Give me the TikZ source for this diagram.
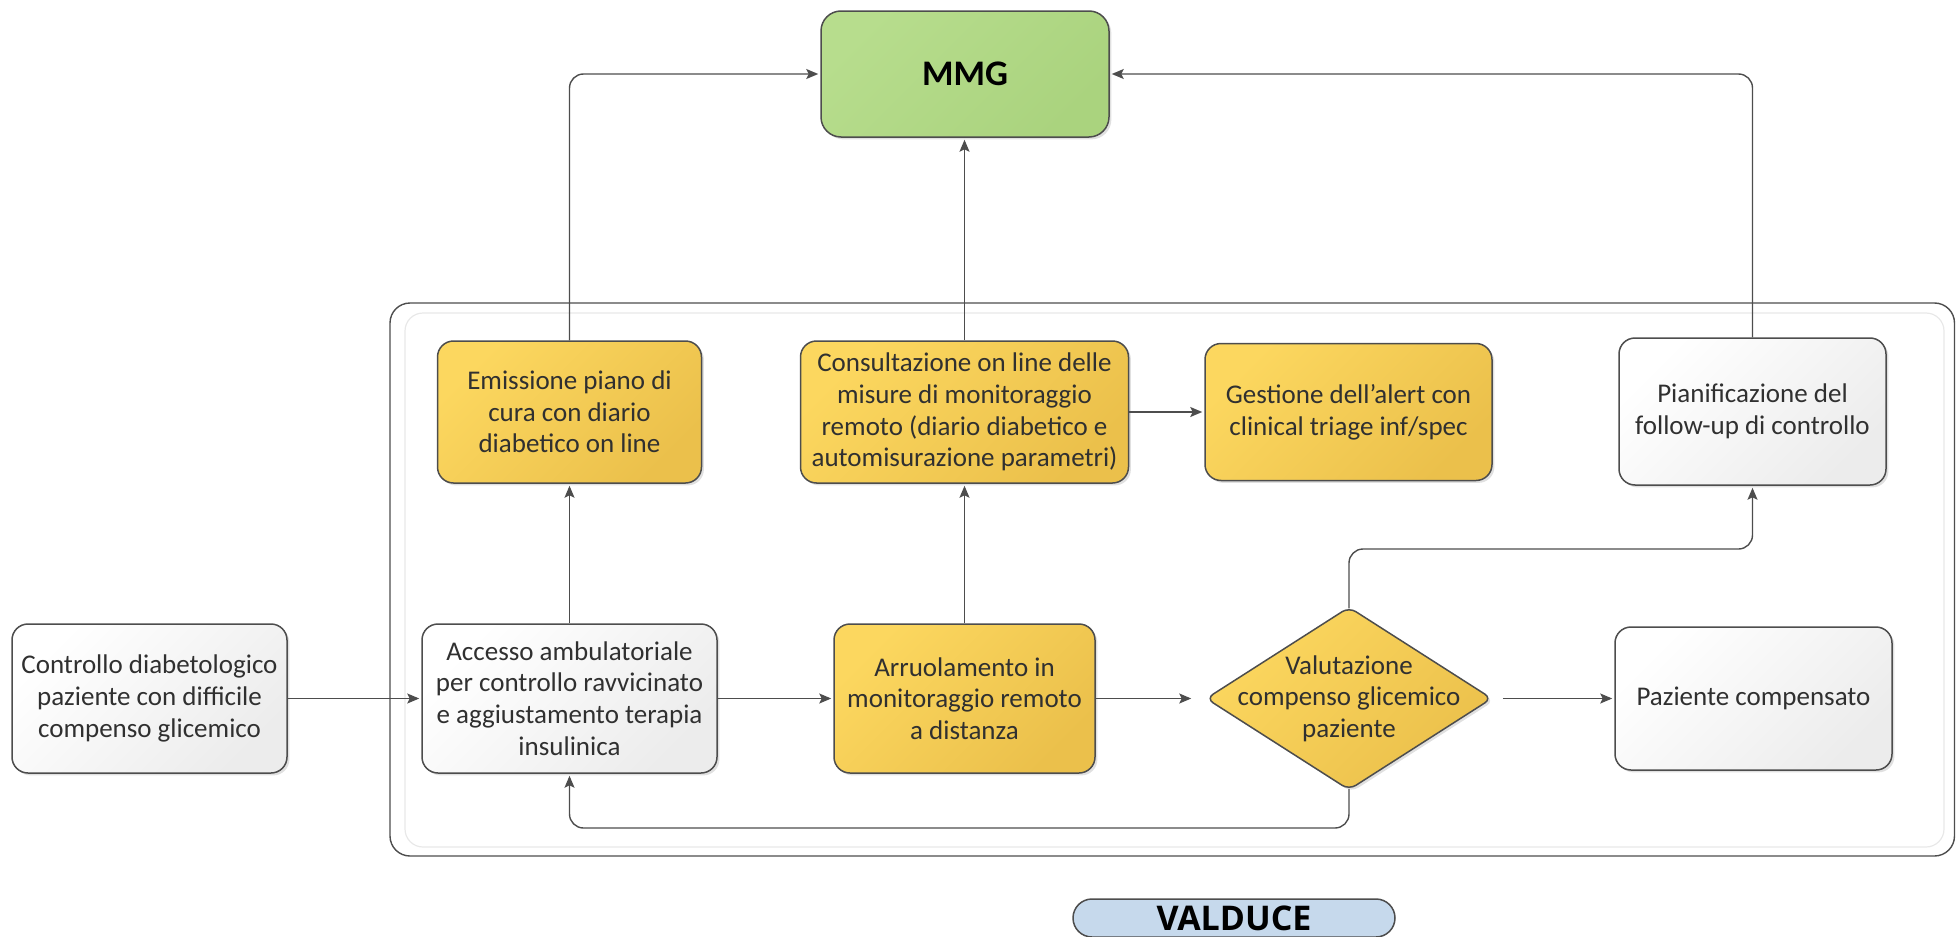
\documentclass[tikz,border=0pt]{standalone}
\usepackage{fontspec}
\setmainfont{Carlito}
\newfontfamily\bannerfont{Open Sans}
\usetikzlibrary{shapes.geometric,arrows.meta,shadows}

\definecolor{edgegray}{HTML}{4D4D4D}
\definecolor{inkgray}{HTML}{303030}
\definecolor{ylwlight}{HTML}{FCD75F}
\definecolor{ylwdark}{HTML}{EBC04B}
\definecolor{grnlight}{HTML}{B7DD8D}
\definecolor{grndark}{HTML}{AAD37E}
\definecolor{whtdark}{HTML}{ECECEC}
\definecolor{pillblue}{HTML}{C6D9EC}
\definecolor{innerline}{HTML}{E8E8E8}

\tikzset{
  softshadow/.style={drop shadow={shadow xshift=1.2pt, shadow yshift=-1.2pt, opacity=0.12, fill=black}},
  card/.style={draw=edgegray, line width=0.75pt, rounded corners=8pt, align=center,
    text=inkgray, font=\fontsize{13.5}{15.8}\selectfont, inner sep=0pt, softshadow},
  yellowcard/.style={card, top color=ylwlight, bottom color=ylwdark, shading angle=45},
  whitecard/.style={card, top color=white, bottom color=whtdark, shading angle=45},
  greencard/.style={card, top color=grnlight, bottom color=grndark, shading angle=45,
    rounded corners=10pt, text=black, font=\bfseries\fontsize{18}{20}\selectfont},
  decision/.style={shape=diamond, draw=edgegray, line width=0.75pt, rounded corners=4pt,
    inner sep=0pt, top color=ylwlight, bottom color=ylwdark, shading angle=45, softshadow},
  decisiontext/.style={align=center, text=inkgray, font=\fontsize{13.5}{15.8}\selectfont, inner sep=0pt},
  pill/.style={draw=edgegray, line width=0.75pt, fill=pillblue, rounded corners=9.5pt,
    text=black, font=\bannerfont\bfseries\fontsize{17}{19}\selectfont, inner sep=0pt},
  conn/.style={draw=edgegray, line width=0.7pt, rounded corners=7pt,
    -{Stealth[length=6pt,width=5pt,inset=1.2pt]}, shorten >=1pt},
}

\begin{document}
\begin{tikzpicture}[x=0.5pt,y=-0.5pt]
\useasboundingbox (0,0) rectangle (1956,937);
\clip (0,0) rectangle (1956,937);

% outer frame of the structure
\draw[innerline, line width=0.6pt, rounded corners=9pt] (405,313) rectangle (1944,847);
\draw[edgegray, line width=0.7pt, rounded corners=10pt] (390,303) rectangle (1954.5,856);

% nodes
\node[greencard, minimum width=144pt, minimum height=63pt] (mmg) at (965,74) {MMG};

\node[whitecard, minimum width=137.5pt, minimum height=74.5pt] (ctrl) at (149.5,698.5)
  {Controllo diabetologico\\paziente con difficile\\compenso glicemico};
\node[whitecard, minimum width=147.5pt, minimum height=74.5pt] (acc) at (569.5,698.5)
  {Accesso ambulatoriale\\per controllo ravvicinato\\e aggiustamento terapia\\insulinica};
\node[yellowcard, minimum width=132pt, minimum height=71pt] (emis) at (569.5,412)
  {Emissione piano di\\cura con diario\\diabetico on line};
\node[yellowcard, minimum width=164pt, minimum height=71pt] (cons) at (964.5,412)
  {Consultazione on line delle\\misure di monitoraggio\\remoto (diario diabetico e\\automisurazione parametri)};
\node[yellowcard, minimum width=143.5pt, minimum height=68.5pt] (gest) at (1348.5,412)
  {Gestione dell’alert con\\clinical triage inf/spec};
\node[yellowcard, minimum width=130.5pt, minimum height=74.5pt] (arr) at (964.5,698.5)
  {Arruolamento in\\monitoraggio remoto\\a distanza};
\node[decision, minimum width=143pt, minimum height=91.5pt] (diam) at (1349,698.5) {};
\node[decisiontext] (diamtext) at (diam) {Valutazione\\compenso glicemico\\paziente};
\node[whitecard, minimum width=133.5pt, minimum height=73.5pt] (pian) at (1752.5,411.5)
  {Pianificazione del\\follow-up di controllo};
\node[whitecard, minimum width=138.5pt, minimum height=71.5pt] (paz) at (1753.5,698.5)
  {Paziente compensato};

\node[pill, minimum width=161pt, minimum height=19pt] (vald) at (1234,918) {VALDUCE};

% routing levels for the two feedback loops
\coordinate (upY) at (0,549);
\coordinate (loY) at (0,828);

% connectors
\draw[conn] (ctrl) -- (acc);
\draw[conn] (acc) -- (arr);
\draw[conn, shorten >=7pt] (arr) -- (diam);
\draw[conn, shorten <=5pt] (diam) -- (paz);
\draw[conn] (acc) -- (emis);
\draw[conn] (arr) -- (cons);
\draw[conn] (cons.east) -- (cons.east -| gest.west);
\draw[conn] (cons.north) -- (cons.north |- mmg.south);
\draw[conn] (emis.north) |- (mmg.west);
\draw[conn] (pian.north) |- (mmg.east);
\draw[conn, shorten <=-1pt] (diam.north) -- (diam.north |- upY) -| (pian.south);
\draw[conn, shorten <=-1pt] (diam.south) -- (diam.south |- loY) -| (acc.south);
\end{tikzpicture}
\end{document}
